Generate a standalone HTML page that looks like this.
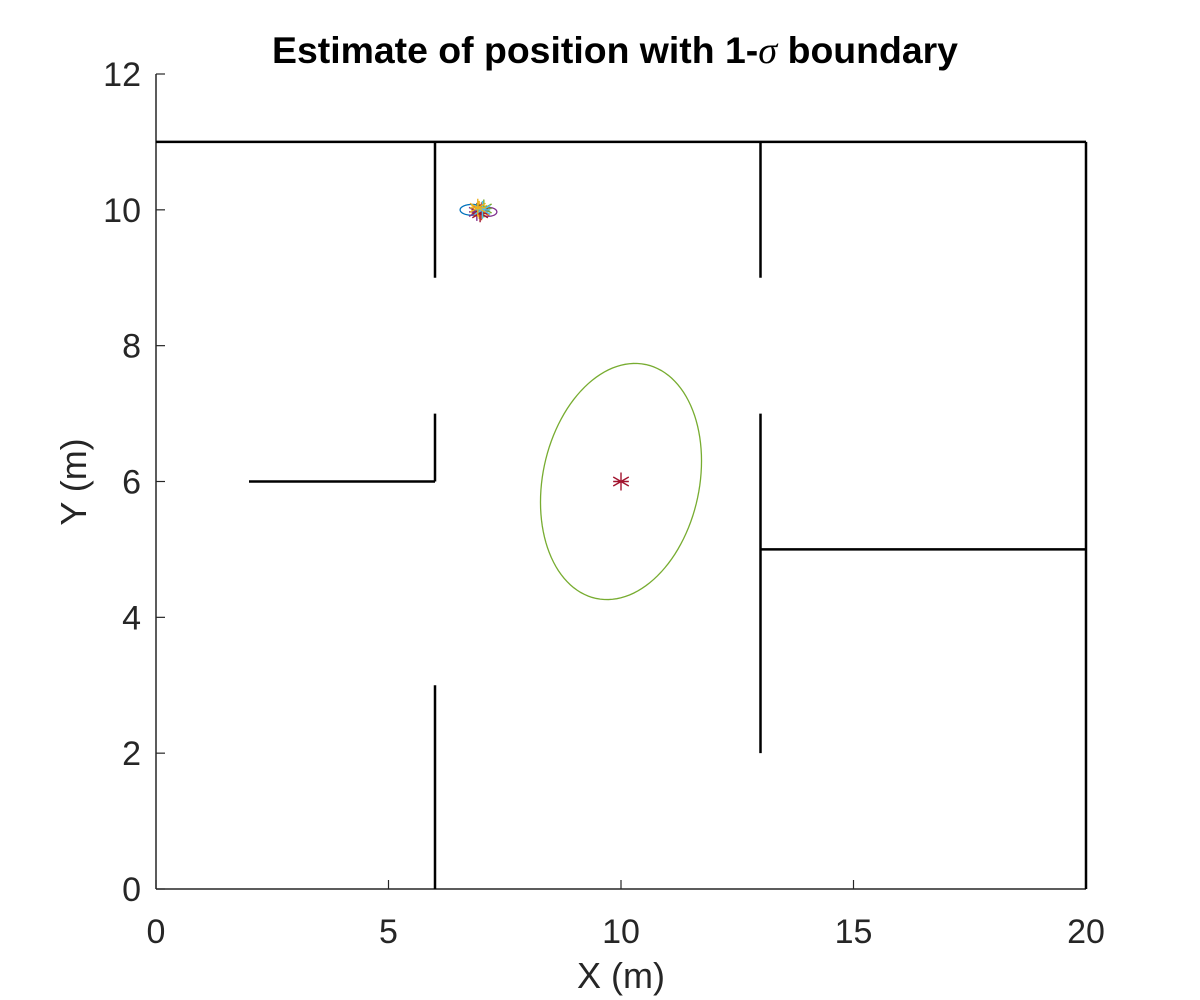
<!DOCTYPE html>
<html><head><meta charset="utf-8"><style>
html,body{margin:0;padding:0;background:#fff;}
svg{display:block;font-family:"Liberation Sans",sans-serif;}
</style></head><body>
<svg id="chart" width="1200" height="1000" viewBox="0 0 1200 1000" xmlns="http://www.w3.org/2000/svg">
<rect width="1200" height="1000" fill="#fff"/>
<text x="615" y="63" text-anchor="middle" font-size="37" font-weight="bold" fill="#000" textLength="686" lengthAdjust="spacingAndGlyphs">Estimate of position with 1-<tspan font-family="Liberation Serif,serif" font-style="italic" font-weight="normal" font-size="38">σ</tspan> boundary</text>
<g id="axes"></g>
<g id="walls"></g>
<g id="marks"></g>
<text x="621" y="988" text-anchor="middle" font-size="36" fill="#262626">X (m)</text>
<text transform="translate(86,482) rotate(-90)" text-anchor="middle" font-size="36" fill="#262626">Y (m)</text>
</svg>
<script>
const xTicks = [0, 5, 10, 15, 20];
const yTicks = [0, 2, 4, 6, 8, 10, 12];
// walls: [x1, y1, x2, y2]
const walls = [[0,11,20,11],[20,0,20,11],[6,9,6,11],[6,6,6,7],[2,6,6,6],[6,0,6,3],[13,9,13,11],[13,2,13,7],[13,5,20,5]];
// ellipses: [cx, cy, ux, uy, vx, vy, color]
const ellipses = [[10,6,0.534,1.722,1.647,-0.240,'#77ac30'],[6.8,10,0.26,0,0,0.08,'#0072bd'],[7.15,9.97,0.18,0,0,0.065,'#7e2f8e']];
// star markers: [x, y, color]
const stars = [[10,6,'#a2142f'],[6.95,10,'#edb120'],[7.0,9.98,'#d95319'],[6.9,9.97,'#7e2f8e'],[7.05,10.02,'#77ac30'],[6.97,9.95,'#a2142f'],[7.02,10.0,'#4dbeee'],[6.92,10.03,'#edb120']];

const sx = v => 156 + v * (1086 - 156) / 20;
const sy = v => 889 - v * (889 - 74) / 12;
const NS = 'http://www.w3.org/2000/svg';
function mk(tag, attrs, parent){const e=document.createElementNS(NS,tag);for(const k in attrs)e.setAttribute(k,attrs[k]);parent.appendChild(e);return e;}
const axes=document.getElementById('axes'), wg=document.getElementById('walls'), mg=document.getElementById('marks');

let l=mk('line',{x1:sx(0),y1:sy(0),x2:sx(20),y2:sy(0),stroke:'#262626','stroke-width':1.5},axes);


l=mk('line',{x1:sx(0),y1:sy(0),x2:sx(0),y2:sy(12),stroke:'#262626','stroke-width':1.5},axes);


xTicks.forEach(t=>{
  const tk=mk('line',{x1:sx(t),y1:sy(0),x2:sx(t),y2:sy(0)-9,stroke:'#262626','stroke-width':1.2},axes);
  
  
  const tx=mk('text',{x:sx(t),y:943,'text-anchor':'middle','font-size':34,fill:'#262626'},axes);tx.textContent=t;
  
  
});
yTicks.forEach(t=>{
  const tk=mk('line',{x1:sx(0),y1:sy(t),x2:sx(0)+9,y2:sy(t),stroke:'#262626','stroke-width':1.2},axes);
  
  
  const tx=mk('text',{x:141,y:sy(t)+12,'text-anchor':'end','font-size':34,fill:'#262626'},axes);tx.textContent=t;
  
  
});
walls.forEach(w=>{
  const e=mk('line',{x1:sx(w[0]),y1:sy(w[1]),x2:sx(w[2]),y2:sy(w[3]),stroke:'#000','stroke-width':2.5},wg);
  
  
});
ellipses.forEach(el=>{
  let d='';
  for(let i=0;i<=120;i++){const t=i/120*2*Math.PI;const x=el[0]+Math.cos(t)*el[2]+Math.sin(t)*el[4];const y=el[1]+Math.cos(t)*el[3]+Math.sin(t)*el[5];d+=(i?'L':'M')+sx(x).toFixed(2)+','+sy(y).toFixed(2);}
  const p=mk('path',{d:d+'Z',fill:'none',stroke:el[6],'stroke-width':1.3},mg);
  
  
});
stars.forEach(s=>{
  const cx=sx(s[0]),cy=sy(s[1]),r=9;let d='';
  for(let k=0;k<3;k++){const a=k*Math.PI/3+Math.PI/2;d+=`M${cx-r*Math.cos(a)},${cy-r*Math.sin(a)}L${cx+r*Math.cos(a)},${cy+r*Math.sin(a)}`;}
  d+=`M${cx-r*0.87},${cy}L${cx+r*0.87},${cy}`;
  const p=mk('path',{d:d,stroke:s[2],'stroke-width':1.4,fill:'none'},mg);
  
  
});
</script>
</body></html>
